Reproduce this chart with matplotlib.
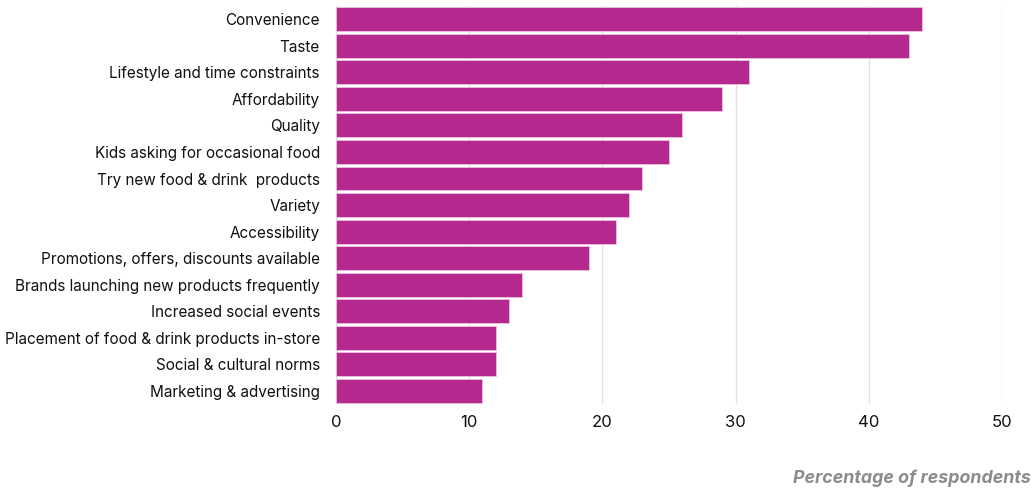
import matplotlib
matplotlib.use("Agg")
import matplotlib.pyplot as plt
import numpy as np

# data
reasons = ["Convenience", "Taste", "Lifestyle and time constraints", "Affordability",
           "Quality", "Kids asking for occasional food", "Try new food & drink  products",
           "Variety", "Accessibility", "Promotions, offers, discounts available",
           "Brands launching new products frequently", "Increased social events",
           "Placement of food & drink products in-store", "Social & cultural norms",
           "Marketing & advertising"]
values = [44, 43, 31, 29, 26, 25, 23, 22, 21, 19, 14, 13, 12, 12, 11]
xticks = [0, 10, 20, 30, 40, 50]

bar_color = "#b5298f"

plt.rcParams['font.family'] = ['Inter', 'DejaVu Sans']

fig = plt.figure(figsize=(10.35, 4.91), dpi=100)
ax = fig.add_axes([0.3246, 0.1766, 0.6435, 0.8114])

y = np.arange(len(reasons))
ax.barh(y, values, height=0.9, color=bar_color, edgecolor="#e9c3dd", linewidth=0.6, zorder=3)

ax.set_xlim(0, 50)
ax.set_ylim(len(reasons) - 0.5, -0.5)
ax.set_yticks(y, labels=reasons, fontsize=11, color="#111111")
ax.set_xticks(xticks, labels=[str(t) for t in xticks], fontsize=12, color="#111111")
ax.tick_params(axis="y", length=0, pad=11.5)
ax.tick_params(axis="x", length=0, pad=8)

for s in ax.spines.values():
    s.set_visible(False)
ax.grid(axis="x", color="#e2e2e2", linewidth=1, zorder=0)
ax.set_axisbelow(True)

fig.text(0.996, 0.008, "Percentage of respondents", ha="right", va="bottom",
         fontsize=12.8, fontweight="bold", fontstyle="italic", color="#8c8c8c")

fig.savefig("out.png", dpi=100)
